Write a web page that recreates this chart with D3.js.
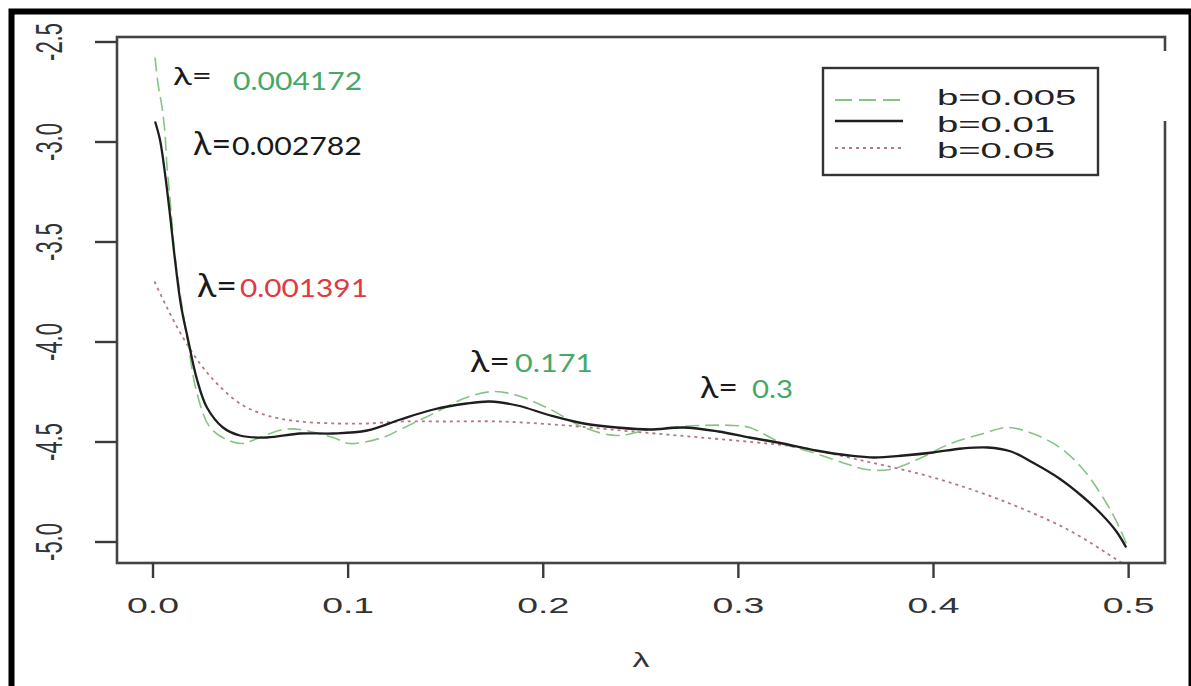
<!DOCTYPE html>
<html>
<head>
<meta charset="utf-8">
<script src="https://cdn.jsdelivr.net/npm/d3@7"></script>
<style>
  html, body { margin: 0; padding: 0; background: #fff; }
  svg { display: block; }
</style>
</head>
<body>
<svg id="chart" width="1191" height="686"></svg>
<script>
// ---------- data ----------
const seriesNames = ["b=0.005", "b=0.01", "b=0.05"];

const lambdaB005 = [0.0013, 0.0028, 0.0049, 0.0064, 0.0074, 0.009, 0.0115, 0.0146, 0.0182, 0.0228, 0.0295, 0.038, 0.046, 0.055, 0.067, 0.0756, 0.0925, 0.101, 0.118, 0.127, 0.144, 0.161, 0.175, 0.187, 0.204, 0.221, 0.238, 0.255, 0.281, 0.298, 0.306, 0.323, 0.340, 0.355, 0.366, 0.378, 0.392, 0.409, 0.426, 0.438, 0.451, 0.465, 0.477, 0.489, 0.496, 0.499];
const valuesB005 = [-2.58, -2.71, -2.83, -2.96, -3.12, -3.29, -3.57, -3.79, -4.01, -4.26, -4.43, -4.49, -4.51, -4.48, -4.44, -4.44, -4.48, -4.51, -4.48, -4.44, -4.36, -4.28, -4.25, -4.27, -4.34, -4.43, -4.47, -4.44, -4.42, -4.42, -4.43, -4.51, -4.56, -4.61, -4.64, -4.64, -4.59, -4.51, -4.46, -4.43, -4.46, -4.53, -4.64, -4.81, -4.94, -5.01];

const lambdaB01 = [0.0013, 0.0038, 0.0064, 0.009, 0.0115, 0.0146, 0.0182, 0.0228, 0.0279, 0.0361, 0.0448, 0.0587, 0.0756, 0.0925, 0.110, 0.127, 0.144, 0.161, 0.173, 0.187, 0.204, 0.221, 0.238, 0.255, 0.272, 0.290, 0.306, 0.323, 0.340, 0.357, 0.370, 0.385, 0.400, 0.415, 0.428, 0.440, 0.452, 0.464, 0.476, 0.486, 0.494, 0.499];
const valuesB01 = [-2.90, -2.99, -3.16, -3.37, -3.59, -3.82, -3.99, -4.19, -4.33, -4.43, -4.47, -4.48, -4.46, -4.46, -4.445, -4.39, -4.34, -4.31, -4.30, -4.32, -4.37, -4.41, -4.43, -4.44, -4.43, -4.45, -4.48, -4.51, -4.545, -4.57, -4.58, -4.57, -4.555, -4.535, -4.53, -4.55, -4.61, -4.68, -4.77, -4.86, -4.95, -5.03];

const lambdaB05 = [0.001, 0.0074, 0.0156, 0.0243, 0.033, 0.0448, 0.0587, 0.0756, 0.095, 0.110, 0.127, 0.150, 0.178, 0.212, 0.246, 0.281, 0.315, 0.332, 0.366, 0.400, 0.434, 0.469, 0.494, 0.500];
const valuesB05 = [-3.70, -3.83, -3.98, -4.11, -4.21, -4.31, -4.37, -4.40, -4.41, -4.41, -4.40, -4.40, -4.40, -4.42, -4.45, -4.48, -4.51, -4.53, -4.60, -4.68, -4.79, -4.94, -5.09, -5.13];

const xTicks = [0.0, 0.1, 0.2, 0.3, 0.4, 0.5];
const yTicks = [-2.5, -3.0, -3.5, -4.0, -4.5, -5.0];
const xTitle = "λ";

// annotations: label prefix, value text, anchor (in data units)
const annotPrefix = ["λ=", "λ=", "λ=", "λ=", "λ="];
const annotValue = ["0.004172", "0.002782", "0.001391", "0.171", "0.3"];
const annotPrefixLambda = [0.0105, 0.0208, 0.0228, 0.1627, 0.2806];
const annotValueLambda = [0.0413, 0.0407, 0.0448, 0.1858, 0.3072];
const annotPrefixY = [-2.7175, -3.0675, -3.7775, -4.1525, -4.2825];
const annotValueY = [-2.7425, -3.0675, -3.7775, -4.1525, -4.2825];

// ---------- styles ----------
const annotColor = ["#47a866", "#1a1a1a", "#e0393f", "#47a866", "#47a866"];
const annotPrefixSize = [25, 33, 33, 30, 31];
const annotPrefixWidth = [39, 38, 40, 40, 38];
const annotValueWidth = [129, 130, 128, 78, 41];
const seriesStyle = [
  { color: "#86c486", width: 1.6, dash: "14,6" },
  { color: "#1e1e1e", width: 2.3, dash: null },
  { color: "#b07a80", width: 1.8, dash: "3,4" }
];

// ---------- layout ----------
const svg = d3.select("#chart");
const L = 117, R = 1165, T = 37, B = 563;
const SX = 1.7;

const x = d3.scaleLinear().domain([-0.0182, 0.5189]).range([L, R]);
const y = d3.scaleLinear().domain([-5.1075, -2.4775]).range([B, T]);

// outer frame
svg.append("rect").attr("x", 11.5).attr("y", 11.5).attr("width", 1180).attr("height", 720)
  .attr("fill", "none").attr("stroke", "#000").attr("stroke-width", 6);

// clip
svg.append("clipPath").attr("id", "plotclip").append("rect")
  .attr("x", L).attr("y", T).attr("width", R - L).attr("height", B - T);

// series
const seriesData = [
  d3.zip(lambdaB005, valuesB005),
  d3.zip(lambdaB01, valuesB01),
  d3.zip(lambdaB05, valuesB05)
];
const line = d3.line().x(d => x(d[0])).y(d => y(d[1])).curve(d3.curveCatmullRom.alpha(0.5));
const gLines = svg.append("g").attr("clip-path", "url(#plotclip)");
[2, 0, 1].forEach(i => {
  gLines.append("path").datum(seriesData[i])
    .attr("d", line)
    .attr("fill", "none")
    .attr("stroke", seriesStyle[i].color)
    .attr("stroke-width", seriesStyle[i].width)
    .attr("stroke-dasharray", seriesStyle[i].dash)
    .attr("stroke-linejoin", "round");
});

// plot box
svg.append("rect").attr("x", L).attr("y", T).attr("width", R - L).attr("height", B - T)
  .attr("fill", "none").attr("stroke", "#444").attr("stroke-width", 2.6);
// gap in right border
svg.append("rect").attr("x", R - 8).attr("y", 51).attr("width", 16).attr("height", 70).attr("fill", "#fff");

// y axis
const gy = svg.append("g").attr("transform", `translate(${L},0)`)
  .call(d3.axisLeft(y).tickValues(yTicks).tickSize(22).tickSizeOuter(0).tickFormat(d => d.toFixed(1)));
gy.select(".domain").remove();
gy.selectAll(".tick line").attr("stroke", "#3a3a3a").attr("stroke-width", 2.4);
gy.selectAll(".tick text")
  .attr("x", null).attr("dy", null)
  .attr("text-anchor", "middle")
  .attr("transform", `translate(${62 - L},0) scale(${SX},1) rotate(-90)`)
  .attr("font-family", "Liberation Sans, Arial, sans-serif")
  .attr("font-size", 22).attr("fill", "#333");

// x axis
const gx = svg.append("g").attr("transform", `translate(0,${B})`)
  .call(d3.axisBottom(x).tickValues(xTicks).tickSize(15).tickSizeOuter(0).tickFormat(d => d.toFixed(1)));
gx.select(".domain").remove();
gx.selectAll(".tick line").attr("stroke", "#3a3a3a").attr("stroke-width", 2.4);
gx.selectAll(".tick text")
  .attr("y", null).attr("dy", null)
  .attr("text-anchor", "middle")
  .attr("transform", `translate(0,${613 - B}) scale(${SX},1)`)
  .attr("font-family", "Liberation Sans, Arial, sans-serif")
  .attr("font-size", 22).attr("fill", "#333");

// x title
svg.append("text")
  .attr("transform", `translate(${(L + R) / 2},667) scale(${SX},1)`)
  .attr("text-anchor", "middle")
  .attr("font-family", "Liberation Sans, Arial, sans-serif")
  .attr("font-size", 20).attr("fill", "#333")
  .text(xTitle);

// legend
const lg = svg.append("g");
lg.append("rect").attr("x", 823).attr("y", 68).attr("width", 275).attr("height", 107)
  .attr("fill", "#fff").attr("stroke", "#333").attr("stroke-width", 2.4);
const legLineY = [100, 121, 148];
const legTextY = [105, 132, 158];
seriesNames.forEach((name, i) => {
  lg.append("line").attr("x1", 835).attr("x2", 903).attr("y1", legLineY[i]).attr("y2", legLineY[i])
    .attr("stroke", seriesStyle[i].color).attr("stroke-width", seriesStyle[i].width + 0.2)
    .attr("stroke-dasharray", i === 0 ? "17,7" : seriesStyle[i].dash);
  lg.append("text")
    .attr("transform", `translate(937,${legTextY[i]}) scale(1.74,1)`)
    .attr("font-family", "Liberation Sans, Arial, sans-serif")
    .attr("font-size", 22).attr("fill", "#222")
    .text(name);
});

// annotations
annotValue.forEach((v, i) => {
  svg.append("text")
    .attr("x", x(annotPrefixLambda[i])).attr("y", y(annotPrefixY[i]))
    .attr("font-family", "Lato, 'Open Sans', sans-serif")
    .attr("font-size", annotPrefixSize[i]).attr("fill", "#1a1a1a")
    .attr("textLength", annotPrefixWidth[i]).attr("lengthAdjust", "spacingAndGlyphs")
    .text(annotPrefix[i]);
  svg.append("text")
    .attr("x", x(annotValueLambda[i])).attr("y", y(annotValueY[i]))
    .attr("font-family", "Lato, 'Open Sans', sans-serif")
    .attr("font-size", 25).attr("fill", annotColor[i])
    .attr("textLength", annotValueWidth[i]).attr("lengthAdjust", "spacingAndGlyphs")
    .text(v);
});
</script>
</body>
</html>
